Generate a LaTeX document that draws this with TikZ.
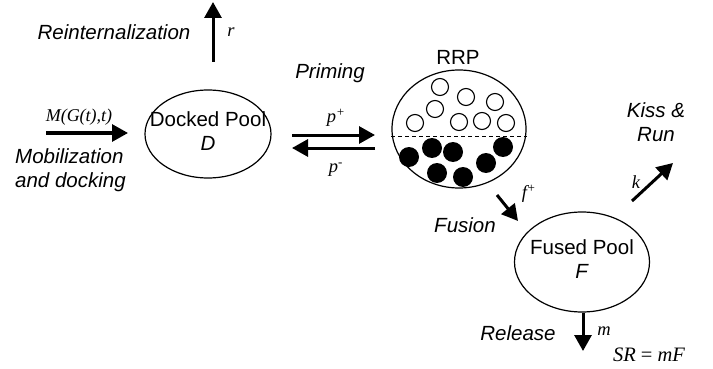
\documentclass[tikz,border=0pt]{standalone}
\usepackage{fontspec}
\setmainfont{Liberation Sans}
\newfontfamily\tms{Liberation Serif}
\usetikzlibrary{arrows.meta,shapes.geometric}
\begin{document}
\begin{tikzpicture}[x=1pt,y=-1pt,
  pool/.style={draw, ellipse, line width=1.2pt, inner sep=0pt},
  pooltxt/.style={align=center, inner sep=0pt, font=\fontsize{20.5}{24}\selectfont},
  flow/.style={line width=3pt, -{Triangle[length=16pt,width=17pt]}},
  lbl/.style={font=\fontsize{20.5}{23.5}\selectfont\itshape, inner sep=0pt},
  mth/.style={font=\fontsize{18.5}{20}\selectfont\tms\itshape, inner sep=0pt},
  ves/.style={draw, circle, line width=1.1pt, minimum size=17pt, inner sep=0pt},
  fves/.style={fill, circle, minimum size=20pt, inner sep=0pt}]
\useasboundingbox (0,0) rectangle (713,369);
% pools
\node[pool, minimum width=126pt, minimum height=88pt] (D) at (208,134) {};
\node[pooltxt] (Dt) at (208,131) {Docked Pool\\\textit{D}};
\node[pool, minimum width=134pt, minimum height=118pt] (RRP) at (459,129) {};
\node[pool, minimum width=135pt, minimum height=100pt] (F) at (582,262) {};
\node[pooltxt] (Ft) at (582,259) {Fused Pool\\\textit{F}};
% RRP content
\draw[line width=1pt, dash pattern=on 4pt off 3pt] (RRP.west |- 0,136) -- (RRP.east |- 0,136);
\foreach \i/\p in {1/{440,87},2/{466,97},3/{495,102},4/{435,109},5/{415,123},6/{459,122},7/{482,121},8/{506,123}}
  \node[ves] (o\i) at (\p) {};
\foreach \i/\p in {1/{409,157},2/{432,148},3/{453,152},4/{437,173},5/{463,177},6/{486,163},7/{503,147}}
  \node[fves] (c\i) at (\p) {};
% coordinates for arrows
\coordinate (mS) at (46,133);  \coordinate (mE) at (128,133);
\coordinate (rS) at (213,62);  \coordinate (rE) at (213,2);
\coordinate (ppS) at (292,135); \coordinate (ppE) at (375,135);
\coordinate (pmS) at (375,148); \coordinate (pmE) at (292,148);
\coordinate (fS) at (497,195); \coordinate (fE) at (518,221);
\coordinate (kS) at (632,201); \coordinate (kE) at (673,163);
\coordinate (reS) at (583,313); \coordinate (reE) at (583,351);
\draw[flow] (mS) -- (mE);
\draw[flow] (rS) -- (rE);
\draw[flow] (ppS) -- (ppE);
\draw[flow] (pmS) -- (pmE);
\draw[flow] (fS) -- (fE);
\draw[flow] (kS) -- (kE);
\draw[flow] (reS) -- (reE);
% labels
\node[lbl] (reint) at (114,32) {Reinternalization};
\node[mth] (rl) at (231,32) {r};
\node[mth, font=\fontsize{18}{20}\selectfont\tms\itshape] (Ml) at (79,117) {M(G(t),t)};
\node[lbl, anchor=west, align=left] (mob) at (15,170) {Mobilization\\and docking};
\node[lbl] (prim) at (330,73) {Priming};
\node[mth] (pp) at (336,118) {p\textsuperscript{+}};
\node[mth] (pm) at (336,170) {p\textsuperscript{-}};
\node[font=\fontsize{20.5}{23}\selectfont, inner sep=0pt] (rrpl) at (458,57) {RRP};
\node[mth] (fl) at (529,194) {f\textsuperscript{+}};
\node[lbl] (fus) at (465,225) {Fusion};
\node[lbl, align=center] (kiss) at (656,122) {Kiss \&\\Run};
\node[mth] (kl) at (636,182) {k};
\node[lbl] (rel) at (518,333) {Release};
\node[mth] (ml) at (604,331) {m};
\node[mth, font=\fontsize{20.5}{22}\selectfont\tms\itshape] (sr) at (649,355) {SR {\upshape=} mF};
\end{tikzpicture}
\end{document}
